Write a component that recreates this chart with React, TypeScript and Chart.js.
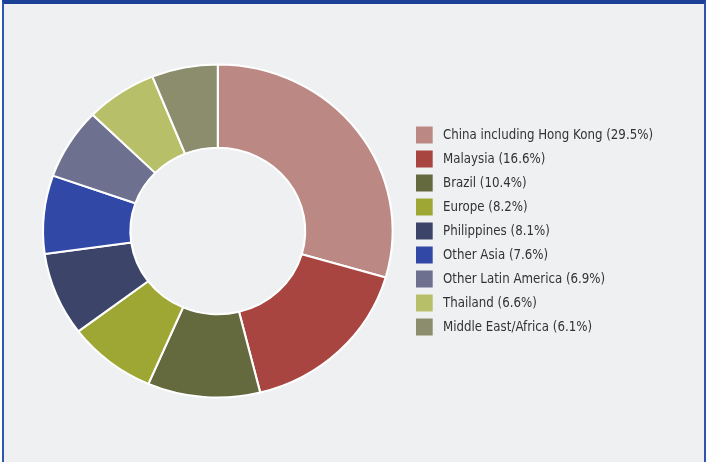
import React, { useEffect, useRef } from "react";
import { Chart, registerables } from "chart.js";

Chart.register(...registerables);

const categories = [
  "China including Hong Kong",
  "Malaysia",
  "Brazil",
  "Europe",
  "Philippines",
  "Other Asia",
  "Other Latin America",
  "Thailand",
  "Middle East/Africa",
];
const shares = [29.5, 16.6, 10.4, 8.2, 8.1, 7.6, 6.9, 6.6, 6.1];
const colors = [
  "#bc8884",
  "#a84540",
  "#646a3e",
  "#9ea733",
  "#3c4569",
  "#3248a6",
  "#6d718f",
  "#b8bf69",
  "#8b8d6c",
];

const STRETCH_X = 1.05;
const FONT_FAMILY = "'DejaVu Sans Condensed', 'Liberation Sans', sans-serif";
const FONT_SIZE = 14.5;
const ROW_PAD = 7;
const CANVAS_W = 700;
const CANVAS_H = 458;
const BOX_SCREEN_X = 412;
const BOX_SCREEN_W = 16.7;
const TARGET_TEXT_W = 210;
const CENTER_X = 213.8;

const labelText = (i: number) => ` ${categories[i]} (${shares[i].toFixed(1)}%)`;

export default function App() {
  const ref = useRef<HTMLCanvasElement | null>(null);

  useEffect(() => {
    document.body.style.margin = "0";
    const canvas = ref.current;
    if (!canvas) return;

    const mctx = document.createElement("canvas").getContext("2d")!;
    mctx.font = `${FONT_SIZE}px ${FONT_FAMILY}`;
    const sx = TARGET_TEXT_W / mctx.measureText(`${categories[0]} (${shares[0].toFixed(1)}%)`).width;
    let maxW = 0;
    categories.forEach((_, i) => {
      maxW = Math.max(maxW, mctx.measureText(labelText(i)).width);
    });
    const boxW = BOX_SCREEN_W / sx;
    const legendLeft = BOX_SCREEN_X - ROW_PAD * sx;
    const legendWidth = ROW_PAD + boxW + FONT_SIZE / 2 + maxW + 10;
    const padRight = CANVAS_W - legendLeft - legendWidth;
    const padLeft = 2 * CENTER_X - legendLeft;

    const condensePlugin = {
      id: "condenseLegend",
      beforeDraw(chart: any) {
        const ctx = chart.ctx;
        const p = chart.legend ? chart.legend.left : legendLeft;
        ctx.save();
        ctx.translate(p, 0);
        ctx.scale(sx, 1);
        ctx.translate(-p, 0);
      },
      beforeDatasetsDraw(chart: any) {
        const ctx = chart.ctx;
        ctx.restore();
        const arc = chart.getDatasetMeta(0).data[0];
        ctx.save();
        if (!arc) return;
        ctx.translate(arc.x, arc.y);
        ctx.scale(STRETCH_X, 1);
        ctx.translate(-arc.x, -arc.y);
      },
      afterDatasetsDraw(chart: any) {
        chart.ctx.restore();
      },
    };

    const chart = new Chart(canvas, {
      type: "doughnut",
      data: {
        labels: categories,
        datasets: [
          {
            data: shares,
            backgroundColor: colors,
            borderColor: "#ffffff",
            borderWidth: 2,
          },
        ],
      },
      options: {
        responsive: false,
        animation: false,
        devicePixelRatio: 1,
        radius: 166.5,
        cutout: "50%",
        layout: { padding: { left: padLeft, right: padRight, top: 0, bottom: 4 } },
        plugins: {
          tooltip: { enabled: false },
          legend: {
            position: "right",
            align: "center",
            labels: {
              boxWidth: boxW,
              boxHeight: 17,
              padding: ROW_PAD,
              color: "#333333",
              font: { family: FONT_FAMILY, size: FONT_SIZE },
              generateLabels: () =>
                categories.map((_, i) => ({
                  text: labelText(i),
                  fillStyle: colors[i],
                  strokeStyle: "rgba(0,0,0,0)",
                  lineWidth: 0,
                  hidden: false,
                  index: i,
                  fontColor: "#333333",
                })),
            },
          },
        },
      },
      plugins: [condensePlugin],
    });
    return () => chart.destroy();
  }, []);

  return (
    <div style={{ width: 710, height: 462, background: "#ffffff", position: "relative", overflow: "hidden" }}>
      <div
        style={{
          position: "absolute",
          left: 2,
          top: 0,
          width: 704,
          height: 462,
          boxSizing: "border-box",
          borderTop: "4px solid #1b4196",
          borderLeft: "2px solid #2f55b0",
          borderRight: "2px solid #2f55b0",
          background: "#eef0f2",
        }}
      >
        <canvas ref={ref} width={CANVAS_W} height={CANVAS_H} style={{ display: "block", width: CANVAS_W, height: CANVAS_H }} />
      </div>
    </div>
  );
}
